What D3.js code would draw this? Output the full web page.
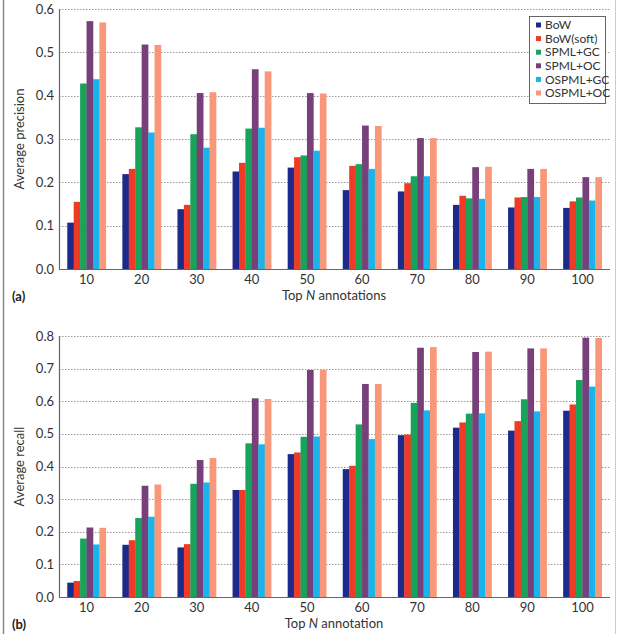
<!DOCTYPE html>
<meta charset="utf-8">
<style>
 body { margin: 0; background: #fff; }
 svg { font-family: Lato, 'Open Sans', sans-serif; }
 .grid line { stroke: #999; stroke-dasharray: 1.5,1.5; }
 .axis-line { stroke: #666; stroke-width: 1.2; }
 .tick-label { font-size: 13px; fill: #333; }
 .title { font-size: 13px; fill: #333; }
</style>
<body>
<script src="https://cdn.jsdelivr.net/npm/d3@7"></script>
<script>

 var categories = ["10", "20", "30", "40", "50", "60", "70", "80", "90", "100"];
 var series = ["BoW", "BoW(soft)", "SPML+GC", "SPML+OC", "OSPML+GC", "OSPML+OC"];
 var colors = ["#1c2a8c", "#ef3a26", "#17a35a", "#77407a", "#1ab4ec", "#f9977a"];

 // average precision, one array per method
 var precBoW      = [0.107, 0.219, 0.138, 0.225, 0.234, 0.182, 0.179, 0.148, 0.142, 0.141];
 var precBoWSoft  = [0.155, 0.231, 0.148, 0.245, 0.258, 0.238, 0.198, 0.169, 0.165, 0.156];
 var precSpmlGC   = [0.428, 0.327, 0.311, 0.324, 0.262, 0.242, 0.214, 0.163, 0.166, 0.165];
 var precSpmlOC   = [0.572, 0.518, 0.406, 0.461, 0.406, 0.331, 0.302, 0.235, 0.231, 0.212];
 var precOspmlGC  = [0.438, 0.315, 0.280, 0.326, 0.273, 0.231, 0.214, 0.162, 0.166, 0.158];
 var precOspmlOC  = [0.569, 0.517, 0.408, 0.456, 0.405, 0.330, 0.302, 0.236, 0.231, 0.212];

 // average recall
 var recBoW       = [0.044, 0.160, 0.152, 0.328, 0.438, 0.392, 0.496, 0.519, 0.510, 0.571];
 var recBoWSoft   = [0.049, 0.174, 0.162, 0.328, 0.443, 0.402, 0.498, 0.535, 0.539, 0.590];
 var recSpmlGC    = [0.179, 0.242, 0.347, 0.471, 0.491, 0.529, 0.595, 0.562, 0.606, 0.665];
 var recSpmlOC    = [0.213, 0.341, 0.420, 0.609, 0.696, 0.653, 0.764, 0.751, 0.762, 0.795];
 var recOspmlGC   = [0.161, 0.246, 0.351, 0.468, 0.492, 0.484, 0.572, 0.563, 0.569, 0.645];
 var recOspmlOC   = [0.212, 0.345, 0.426, 0.607, 0.696, 0.653, 0.766, 0.752, 0.762, 0.794];

 var precTicks = [0.0, 0.1, 0.2, 0.3, 0.4, 0.5, 0.6];
 var recTicks = [0.0, 0.1, 0.2, 0.3, 0.4, 0.5, 0.6, 0.7, 0.8];

 var width = 617, height = 634;

 var svg = d3.select("body").append("svg")
             .attr("width", width)
             .attr("height", height);

 // frame lines at the sides
 svg.append("line").attr("x1", 3.5).attr("x2", 3.5).attr("y1", 0).attr("y2", height)
    .attr("stroke", "#888").attr("stroke-width", 1.5);
 svg.append("line").attr("x1", 615.5).attr("x2", 615.5).attr("y1", 0).attr("y2", height)
    .attr("stroke", "#ccc").attr("stroke-width", 1);

 var xScale = d3.scaleBand()
                .domain(categories)
                .range([59, 610])
                .paddingInner(0.3)
                .paddingOuter(0.15);

 var xSub = d3.scaleBand()
              .domain(series)
              .range([0, xScale.bandwidth()]);

 function drawPanel(opts) {
     var yScale = d3.scaleLinear()
                    .domain([0, opts.max])
                    .range([opts.bottom, opts.top]);

     var g = svg.append("g");

     // gridlines
     g.append("g").attr("class", "grid")
      .selectAll("line")
      .data(opts.ticks.slice(1))
      .enter().append("line")
      .attr("x1", 59).attr("x2", 610)
      .attr("y1", d => Math.round(yScale(d)) + 0.5)
      .attr("y2", d => Math.round(yScale(d)) + 0.5);

     // bars
     var rows = categories.map(function(c, i) {
         return series.map(function(s, j) { return {cat: c, key: s, color: colors[j], v: opts.data[j][i]}; });
     });
     g.selectAll(".group")
      .data(rows)
      .enter().append("g")
      .attr("transform", (d, i) => "translate(" + xScale(categories[i]) + ",0)")
      .selectAll("rect")
      .data(d => d)
      .enter().append("rect")
      .attr("x", d => xSub(d.key))
      .attr("width", xSub.bandwidth() + 0.3)
      .attr("y", d => yScale(d.v))
      .attr("height", d => yScale(0) - yScale(d.v))
      .attr("fill", d => d.color);

     // axes lines
     g.append("line").attr("class", "axis-line")
      .attr("x1", 59.5).attr("x2", 59.5).attr("y1", opts.top).attr("y2", opts.bottom + 0.5);
     g.append("line").attr("class", "axis-line")
      .attr("x1", 59).attr("x2", 610).attr("y1", opts.bottom + 0.5).attr("y2", opts.bottom + 0.5);

     // y tick labels
     g.selectAll(".ylab")
      .data(opts.ticks)
      .enter().append("text")
      .attr("class", "tick-label")
      .attr("x", 54)
      .attr("y", d => yScale(d))
      .attr("dy", "0.35em")
      .attr("text-anchor", "end")
      .text(d => d3.format(".1f")(d));

     // x tick labels
     g.selectAll(".xlab")
      .data(categories)
      .enter().append("text")
      .attr("class", "tick-label")
      .attr("x", d => xScale(d) + xScale.bandwidth() / 2)
      .attr("y", opts.bottom + 15)
      .attr("text-anchor", "middle")
      .text(d => d);

     // y title
     g.append("text")
      .attr("class", "title")
      .attr("transform", "translate(24," + ((opts.top + opts.bottom) / 2) + ") rotate(-90)")
      .attr("text-anchor", "middle")
      .text(opts.ylabel);

     // x title with italic N
     var xt = g.append("text")
               .attr("class", "title")
               .attr("x", 334)
               .attr("y", opts.bottom + 31)
               .attr("text-anchor", "middle");
     xt.append("tspan").text("Top ");
     xt.append("tspan").attr("font-style", "italic").text("N");
     xt.append("tspan").text(" " + opts.xword);

     // panel letter
     g.append("text")
      .attr("x", 12)
      .attr("y", opts.bottom + 32)
      .attr("font-size", "13px")
      .attr("font-weight", "bold")
      .attr("fill", "#222")
      .text(opts.letter);
 }

 drawPanel({
     top: 9, bottom: 269, max: 0.6, ticks: precTicks,
     data: [precBoW, precBoWSoft, precSpmlGC, precSpmlOC, precOspmlGC, precOspmlOC],
     ylabel: "Average precision", xword: "annotations", letter: "(a)"
 });

 drawPanel({
     top: 336, bottom: 597, max: 0.8, ticks: recTicks,
     data: [recBoW, recBoWSoft, recSpmlGC, recSpmlOC, recOspmlGC, recOspmlOC],
     ylabel: "Average recall", xword: "annotation", letter: "(b)"
 });

 // legend
 var legend = svg.append("g").attr("transform", "translate(529,16)");
 legend.append("rect")
       .attr("x", 0.5).attr("y", 0.5)
       .attr("width", 76).attr("height", 87)
       .attr("fill", "#fff")
       .attr("stroke", "#666")
       .attr("stroke-width", 1);
 var items = legend.selectAll(".item")
                   .data(series)
                   .enter().append("g")
                   .attr("transform", (d, i) => "translate(7," + (9 + i * 13.6) + ")");
 items.append("rect")
      .attr("x", 0).attr("y", -2.5)
      .attr("width", 5).attr("height", 5)
      .attr("fill", (d, i) => colors[i]);
 items.append("text")
      .attr("x", 9)
      .attr("dy", "0.35em")
      .attr("font-size", "12px")
      .attr("fill", "#333")
      .text(d => d);

</script>
